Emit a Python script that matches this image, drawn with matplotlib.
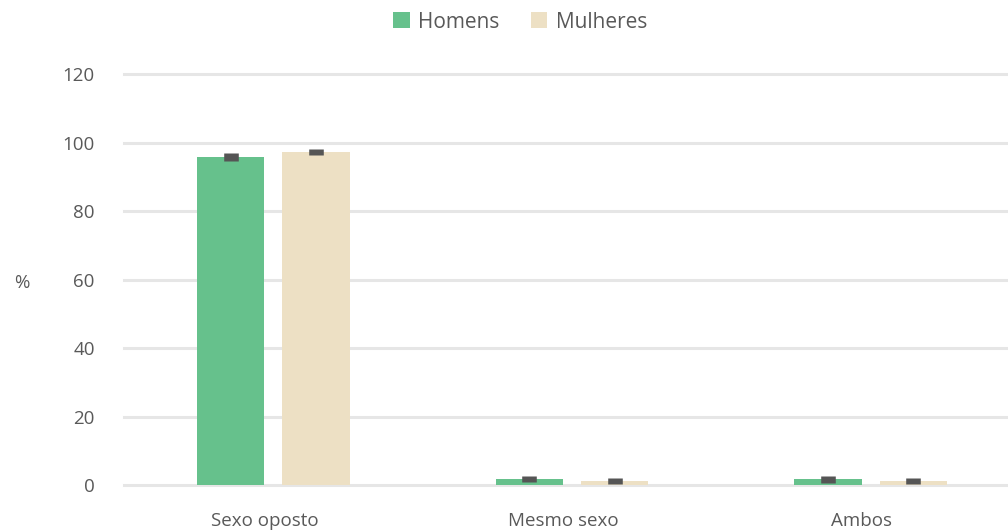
import matplotlib.pyplot as plt
import numpy as np
from matplotlib.transforms import ScaledTranslation

plt.rcParams['font.family'] = ['Open Sans', 'DejaVu Sans']

categorias = ["Sexo oposto", "Mesmo sexo", "Ambos"]
homens = [95.8, 2.0, 1.8]
mulheres = [97.3, 1.3, 1.3]
homens_err = [1.2, 0.9, 1.0]
mulheres_err = [0.9, 0.8, 0.9]
yticks = [0, 20, 40, 60, 80, 100, 120]

cor_h = "#66c18c"
cor_m = "#ede0c4"
cor_txt = "#595959"

fig = plt.figure(figsize=(10.08, 5.31), dpi=100)
# o eixo passa um pouco da borda direita, como no original
ax = fig.add_axes([0.123, 0.0857, 0.889, 0.775])

x = np.arange(len(categorias))
w = 0.225
off = 0.143

ax.bar(x - off, homens, w, color=cor_h, label="Homens", zorder=3)
ax.bar(x + off, mulheres, w, color=cor_m, label="Mulheres", zorder=3)

# barras de erro: caixinha cinza escura
ax.errorbar(x - off, homens, yerr=homens_err, fmt="none", ecolor="#555555",
            elinewidth=10.5, capsize=0, zorder=4)
ax.errorbar(x + off, mulheres, yerr=mulheres_err, fmt="none", ecolor="#555555",
            elinewidth=10.5, capsize=0, zorder=4)

ax.set_xlim(-0.5, 2.5)
ax.set_ylim(0, 120)
ax.set_yticks(yticks)
ax.set_xticks(x)
ax.set_xticklabels(categorias)
ax.yaxis.grid(True, color="#e6e6e6", linewidth=2.2, zorder=0)
for gl in ax.get_ygridlines():
    gl.set_clip_on(False)
ax.set_axisbelow(True)
for s in ax.spines.values():
    s.set_visible(False)
ax.tick_params(axis="both", length=0, colors=cor_txt, labelsize=13.5)
ax.tick_params(axis="y", pad=21)
ax.tick_params(axis="x", pad=19)

# rótulos das categorias um pouco à esquerda do centro do grupo
desloc = ScaledTranslation(-0.09, 0, fig.dpi_scale_trans)
for lbl in ax.get_xticklabels():
    lbl.set_transform(lbl.get_transform() + desloc)

fig.text(0.022, 1 - 283 / 531, "%", color=cor_txt, fontsize=13.5, ha="center", va="center")

fig.legend(*ax.get_legend_handles_labels(), loc="center",
           bbox_to_anchor=(520 / 1008, 1 - 22 / 531), ncol=2, frameon=False,
           fontsize=15, handlelength=0.8, handleheight=0.8, handletextpad=0.4,
           columnspacing=1.5, labelcolor=cor_txt)

fig.savefig("out.png", dpi=100)
